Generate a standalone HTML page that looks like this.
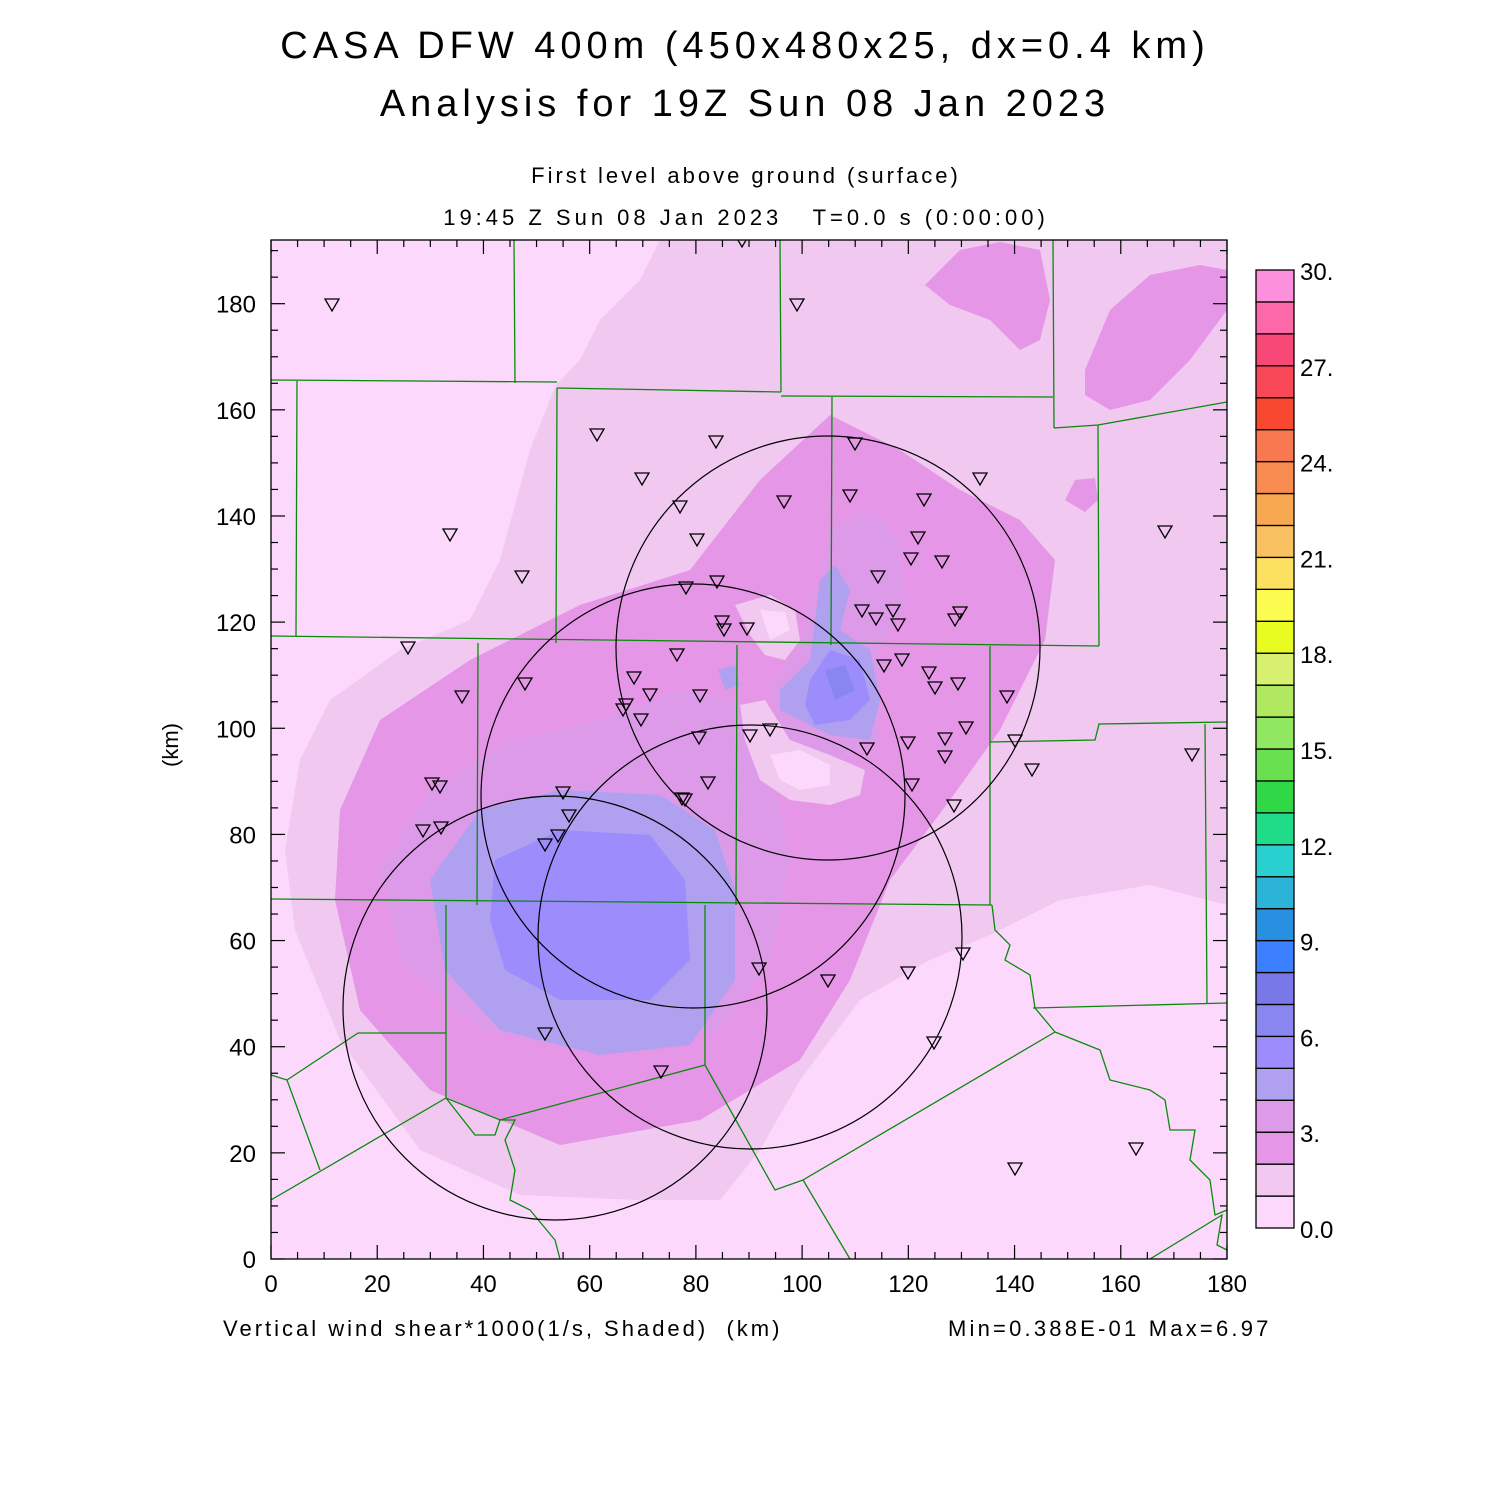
<!DOCTYPE html>
<html><head><meta charset="utf-8"><style>
body{margin:0;background:#fff;width:1500px;height:1500px;overflow:hidden}
svg{display:block}
text{font-family:"Liberation Sans",sans-serif;fill:#000}
</style></head><body>
<svg id="s" width="1500" height="1500" xmlns="http://www.w3.org/2000/svg">
<defs><clipPath id="c"><rect x="271" y="240" width="956" height="1019"/></clipPath></defs>
<g clip-path="url(#c)">
<rect x="271" y="240" width="956" height="1019" fill="#f0c8f0"/>
<path d="M271,240 L660,240 L640,280 L600,320 L580,360 L556,385 L530,450 L500,560 L470,620 L400,650 L330,700 L300,760 L285,850 L295,930 L340,1040 L420,1150 L520,1195 L640,1200 L720,1200 L760,1150 L800,1080 L860,1000 L930,960 L990,935 L1060,900 L1150,885 L1227,905 L1227,1259 L271,1259 Z" fill="#fcd8fc"/>
<path d="M271,380 L296,380 L296,700 L271,720 Z" fill="#fcd8fc"/>
<path d="M335,900 L340,810 L380,720 L470,660 L580,605 L690,570 L760,480 L830,415 L900,450 L960,490 L1020,520 L1055,560 L1045,640 L1000,730 L950,800 L890,880 L850,980 L800,1060 L700,1120 L560,1145 L430,1090 L360,1010 Z" fill="#e696e6"/>
<path d="M925,285 L960,250 L1000,242 L1040,250 L1050,300 L1040,340 L1020,350 L990,320 L950,305 Z" fill="#e696e6"/>
<path d="M1085,370 L1110,310 L1150,275 L1200,265 L1227,270 L1227,310 L1190,360 L1150,400 L1110,410 L1085,395 Z" fill="#e696e6"/>
<path d="M1065,500 L1075,480 L1095,478 L1098,500 L1085,512 Z" fill="#e696e6"/>
<path d="M380,870 L430,790 L510,740 L600,720 L680,690 L740,700 L770,770 L790,860 L770,960 L720,1030 L600,1055 L480,1030 L400,960 Z" fill="#dc9ae8"/>
<path d="M830,530 L870,510 L900,540 L905,600 L880,650 L880,740 L840,760 L780,740 L770,690 L800,640 L820,580 Z" fill="#dc9ae8"/>
<path d="M430,880 L480,810 L560,790 L660,795 L715,830 L735,890 L735,980 L690,1045 L600,1055 L500,1030 L445,970 Z" fill="#b0a0f0"/>
<path d="M820,580 L835,565 L850,590 L840,630 L870,650 L880,700 L870,740 L830,735 L780,710 L780,690 L810,660 L815,620 Z" fill="#b0a0f0"/>
<path d="M718,670 L735,665 L740,685 L725,690 Z" fill="#b0a0f0"/>
<path d="M495,860 L560,830 L650,835 L685,880 L690,960 L650,1000 L560,1000 L505,970 L490,920 Z" fill="#9c8cfc"/>
<path d="M810,680 L830,650 L860,660 L870,700 L850,720 L815,725 L805,705 Z" fill="#9c8cfc"/>
<path d="M825,670 L845,665 L855,690 L835,700 Z" fill="#8a86f0"/>
<path d="M735,605 L770,595 L795,610 L800,640 L785,660 L765,655 L750,635 Z" fill="#f0c8f0"/>
<path d="M760,610 L785,612 L790,630 L770,640 Z" fill="#fcd8fc"/>
<path d="M740,705 L765,700 L790,740 L830,755 L865,770 L860,795 L830,805 L790,800 L760,780 L745,740 Z" fill="#f0c8f0"/>
<path d="M770,755 L800,750 L830,765 L830,785 L800,790 L780,780 Z" fill="#fcd8fc"/>
<path d="M755,455 L770,455 L770,468 L758,468 Z" fill="#f0c8f0"/>
<g fill="none" stroke="#0a8a0a" stroke-width="1.3">
<polyline points="271,380 557,382"/>
<polyline points="514,240 515,383"/>
<polyline points="780,240 781,392"/>
<polyline points="557,388 781,392"/>
<polyline points="781,396 1053,397"/>
<polyline points="1053,240 1054,428"/>
<polyline points="1054,428 1098,425 1227,402"/>
<polyline points="1098,425 1099,646"/>
<polyline points="832,397 831,645"/>
<polyline points="557,388 556,643"/>
<polyline points="297,381 296,636"/>
<polyline points="271,636 1099,646"/>
<polyline points="478,643 477,905"/>
<polyline points="737,645 736,905"/>
<polyline points="271,899 992,905"/>
<polyline points="990,646 990,905"/>
<polyline points="990,742 1095,740 1099,724 1227,722"/>
<polyline points="1205,724 1207,1003"/>
<polyline points="1033,1008 1227,1003"/>
<polyline points="992,905 995,930 1010,945 1005,960 1030,975 1035,1008 1055,1032"/>
<polyline points="1055,1032 803,1180 850,1259"/>
<polyline points="705,905 705,1065"/>
<polyline points="446,905 446,1098"/>
<polyline points="271,1200 446,1098"/>
<polyline points="446,1098 500,1120 705,1065"/>
<polyline points="705,1065 775,1190 803,1180"/>
<polyline points="358,1033 446,1033"/>
<polyline points="287,1080 358,1033"/>
<polyline points="271,1075 287,1080 320,1170"/>
<polyline points="446,1098 475,1135 495,1135 500,1120 515,1120 505,1140 515,1170 510,1200 530,1210 555,1240 560,1259"/>
<polyline points="1055,1032 1100,1050 1110,1080 1150,1090 1165,1100 1170,1130 1195,1130 1190,1160 1210,1180 1215,1215 1227,1210"/>
<polyline points="1150,1259 1222,1215 1217,1245 1227,1250"/>
</g>
<g fill="none" stroke="#000" stroke-width="1.2">
<circle cx="828" cy="648" r="212"/>
<circle cx="693" cy="796" r="212"/>
<circle cx="555" cy="1008" r="212"/>
<circle cx="750" cy="937" r="212"/>
</g>
<g id="tri" fill="none" stroke="#000" stroke-width="1.3"></g>
</g>
<rect x="271" y="240" width="956" height="1019" fill="none" stroke="#000" stroke-width="1.3"/>
<g id="ticks" stroke="#000" stroke-width="1.2"></g>
<g id="cb"></g>
<g font-size="24" text-anchor="end" id="yl"></g>
<g font-size="24" text-anchor="middle" id="xl"></g>
<text x="745" y="58" font-size="38" text-anchor="middle" letter-spacing="5">CASA DFW 400m (450x480x25, dx=0.4 km)</text>
<text x="745" y="116" font-size="38" text-anchor="middle" letter-spacing="5">Analysis for 19Z Sun 08 Jan 2023</text>
<text x="746" y="183" font-size="22" text-anchor="middle" letter-spacing="3">First level above ground (surface)</text>
<text x="746" y="225" font-size="22" text-anchor="middle" letter-spacing="4">19:45 Z Sun 08 Jan 2023&#160;&#160;&#160;T=0.0 s (0:00:00)</text>
<text x="223" y="1336" font-size="22" letter-spacing="3">Vertical wind shear*1000(1/s, Shaded)&#160;&#160;(km)</text>
<text x="948" y="1336" font-size="22" letter-spacing="3.2">Min=0.388E-01 Max=6.97</text>
<text x="0" y="0" font-size="22" text-anchor="middle" transform="translate(178,745) rotate(-90)">(km)</text>
</svg>
<script>
var NS="http://www.w3.org/2000/svg";
function el(p,t,a,txt){var e=document.createElementNS(NS,t);for(var k in a)e.setAttribute(k,a[k]);if(txt!=null)e.textContent=txt;document.getElementById(p).appendChild(e);}
var T=[[332,305],[742,241],[797,305],[597,435],[716,442],[855,444],[642,479],[680,507],[784,502],[850,496],[924,500],[980,479],[450,535],[697,540],[918,538],[1165,532],[522,577],[686,588],[717,582],[878,577],[911,559],[942,562],[722,622],[724,630],[747,629],[862,611],[876,619],[893,611],[898,625],[960,613],[955,620],[408,648],[677,655],[634,678],[884,666],[902,660],[929,673],[935,688],[958,684],[462,697],[525,684],[650,695],[700,696],[626,705],[623,710],[641,720],[1007,697],[770,730],[750,736],[699,738],[966,728],[867,749],[908,743],[945,739],[1015,741],[945,757],[1032,770],[1192,755],[432,784],[440,787],[708,783],[563,793],[912,785],[569,816],[682,799],[685,800],[558,836],[545,845],[423,831],[441,828],[954,806],[759,969],[963,954],[908,973],[828,981],[545,1034],[934,1043],[661,1072],[1136,1149],[1015,1169]];
T.forEach(function(p){var x=p[0],y=p[1];el("tri","polygon",{points:(x-7)+","+(y-6)+" "+(x+7)+","+(y-6)+" "+x+","+(y+6)});});
var sx=956/180, sy=1019/192;
for(var k=0;k<=180;k+=5){var x=271+k*sx,L=(k%20==0)?14:7;
 el("ticks","line",{x1:x,y1:1259,x2:x,y2:1259-L});el("ticks","line",{x1:x,y1:240,x2:x,y2:240+L});
 if(k%20==0)el("xl","text",{x:x,y:1292},k);}
for(var k=0;k<=190;k+=5){var y=1259-k*sy,L=(k%20==0)?14:7;
 el("ticks","line",{x1:271,y1:y,x2:271+L,y2:y});el("ticks","line",{x1:1227,y1:y,x2:1227-L,y2:y});
 if(k%20==0)el("yl","text",{x:256,y:y+9},k);}
var C=["#fcd8fc","#f0c8f0","#e696e6","#dc9ae8","#b0a0f0","#9c8cfc","#8a86f0","#7878e8","#3c80ff","#2890e0","#2cb4d8","#28d0d0","#20dc88","#30d848","#68e050","#90e860","#b0e860","#d8f070","#e8fc20","#fcfc50","#fce060","#f8c060","#f8a850","#f88c50","#f87850","#f84830","#f84858","#f84878","#fc68a8","#fc90dc"];
var h=958/30;
for(var i=0;i<30;i++){el("cb","rect",{x:1256,y:1228-(i+1)*h,width:38,height:h,fill:C[i],stroke:"#000","stroke-width":1.3});}
var labs=["0.0","3.","6.","9.","12.","15.","18.","21.","24.","27.","30."];
for(var i=0;i<=10;i++){el("cb","text",{x:1300,y:1228-i*3*h+10,"font-size":24},labs[i]);}
</script>
</body></html>
